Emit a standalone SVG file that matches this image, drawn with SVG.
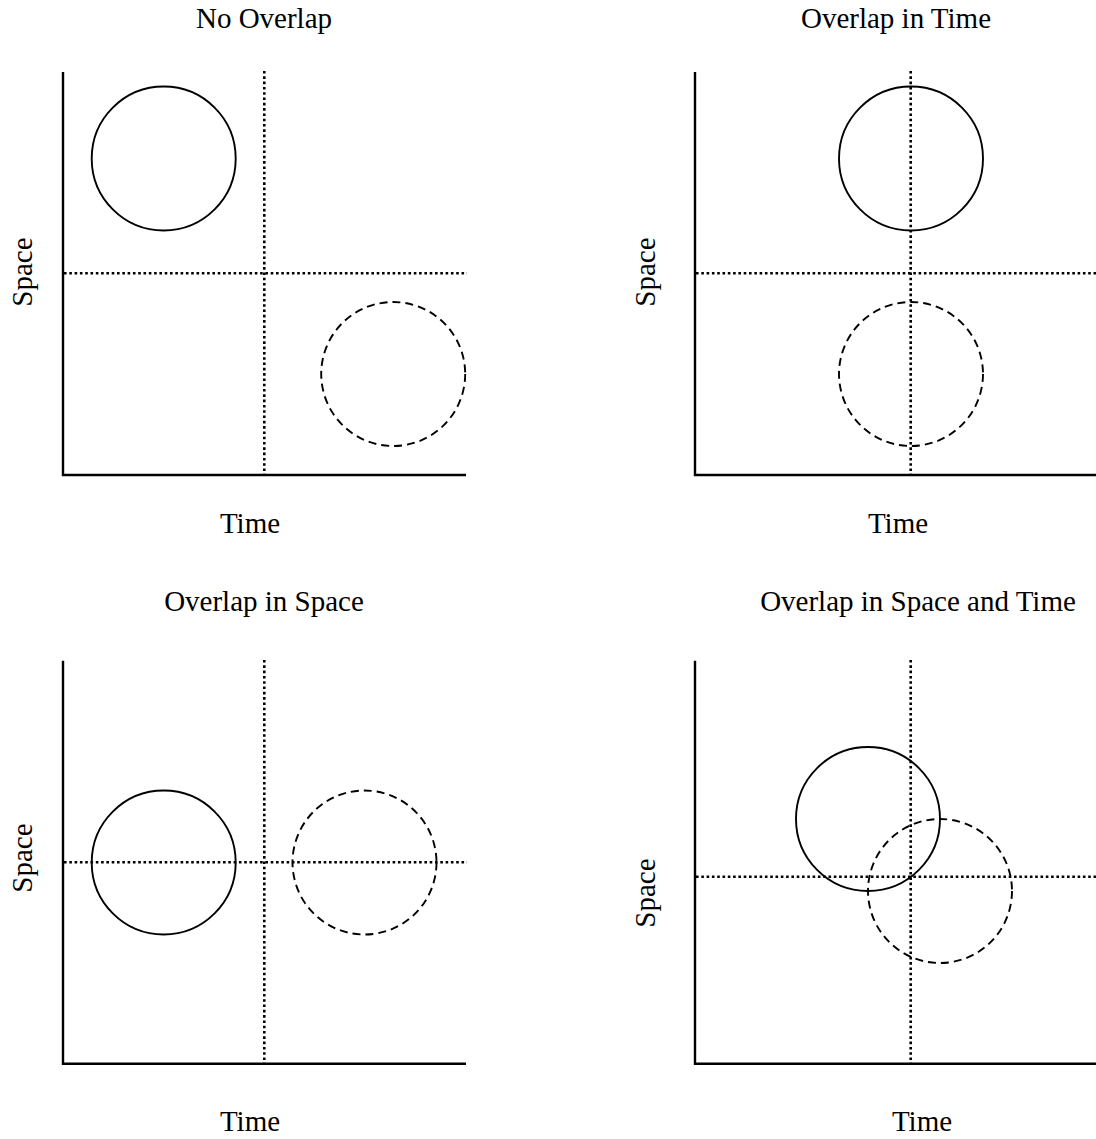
<svg xmlns="http://www.w3.org/2000/svg" width="1096" height="1139" viewBox="0 0 1096 1139">
<style>
text{font-family:"Liberation Serif","Times New Roman",serif;font-size:29px;fill:#000}
.t{text-anchor:middle}
.axis{stroke:#000;stroke-width:2.4;fill:none}
.dot{stroke:#000;stroke-width:2.6;stroke-dasharray:2.6 2.7;fill:none}
.solid{stroke:#000;stroke-width:1.9;fill:none}
.dash{stroke:#000;stroke-width:1.9;stroke-dasharray:8 5;fill:none}
</style>
<rect width="1096" height="1139" fill="#fff"/>
<g id="panel-no-overlap">
<text class="t" x="264" y="28">No Overlap</text>
<text class="t" transform="translate(32,272) rotate(-90)">Space</text>
<text class="t" x="250" y="533">Time</text>
<g id="connectors-1">
<path class="axis" d="M63,72 V475 H466"/>
<line class="dot" x1="264.3" y1="71" x2="264.3" y2="474"/>
<line class="dot" x1="64" y1="273.3" x2="467" y2="273.3"/>
</g>
<circle id="p1-solid" class="solid" cx="163.7" cy="158.5" r="72"/>
<circle id="p1-dashed" class="dash" cx="393.2" cy="374" r="72"/>
</g>
<g id="panel-overlap-time">
<text class="t" x="896" y="28">Overlap in Time</text>
<text class="t" transform="translate(655,272) rotate(-90)">Space</text>
<text class="t" x="898" y="533">Time</text>
<g id="connectors-2">
<path class="axis" d="M695,72 V475 H1098"/>
<line class="dot" x1="910.7" y1="71" x2="910.7" y2="474"/>
<line class="dot" x1="696" y1="273.3" x2="1096" y2="273.3"/>
</g>
<circle id="p2-solid" class="solid" cx="911" cy="158.5" r="72"/>
<circle id="p2-dashed" class="dash" cx="911" cy="374" r="72"/>
</g>
<g id="panel-overlap-space">
<text class="t" x="264" y="610.5">Overlap in Space</text>
<text class="t" transform="translate(32,858) rotate(-90)">Space</text>
<text class="t" x="250" y="1131">Time</text>
<g id="connectors-3">
<path class="axis" d="M63,660.7 V1063.7 H466"/>
<line class="dot" x1="264.3" y1="660" x2="264.3" y2="1063"/>
<line class="dot" x1="64" y1="862.3" x2="467" y2="862.3"/>
</g>
<circle id="p3-solid" class="solid" cx="163.7" cy="862.5" r="72"/>
<circle id="p3-dashed" class="dash" cx="364.5" cy="862.5" r="72"/>
</g>
<g id="panel-overlap-space-time">
<text class="t" x="918" y="610.5">Overlap in Space and Time</text>
<text class="t" transform="translate(655,893) rotate(-90)">Space</text>
<text class="t" x="922" y="1131">Time</text>
<g id="connectors-4">
<path class="axis" d="M695,660.7 V1063.7 H1098"/>
<line class="dot" x1="910.7" y1="660" x2="910.7" y2="1063"/>
<line class="dot" x1="696" y1="876.7" x2="1096" y2="876.7"/>
</g>
<circle id="p4-solid" class="solid" cx="868" cy="819" r="72"/>
<circle id="p4-dashed" class="dash" cx="940" cy="891" r="72"/>
</g>
</svg>
